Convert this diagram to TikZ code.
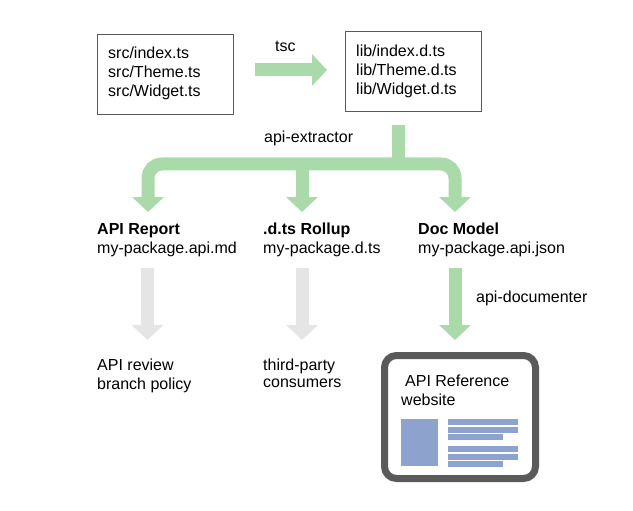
\documentclass[tikz,border=0pt]{standalone}
\usepackage{fontspec}
\setmainfont{Liberation Sans}
\usepackage{xcolor}
\usetikzlibrary{positioning, arrows.meta, calc}

\definecolor{flowgreen}{HTML}{AAD9AA}
\definecolor{flowgray}{HTML}{E5E5E5}
\definecolor{docblue}{HTML}{8DA3CD}
\definecolor{frame}{HTML}{5A5A5A}

\begin{document}
\begin{tikzpicture}[
    x=1pt, y=-1pt,
    filebox/.style={rectangle, draw=black!65, line width=0.9pt, minimum width=136pt, minimum height=80pt},
    plaintext/.style={font=\fontsize{16}{19}\selectfont, inner sep=0pt, anchor=base west, align=left},
    greenarrow/.style={draw=flowgreen, line width=13pt, -{Triangle[width=31pt, length=15pt]}},
    grayarrow/.style={greenarrow, draw=flowgray},
    sitebox/.style={rectangle, draw=frame, line width=7pt, rounded corners=12pt, minimum width=151pt, minimum height=123pt}
]
\useasboundingbox (0,0) rectangle (633,511);

% Sources and compiled declarations (text placed at the baseline of its last line)
\node[filebox] (src) at (165,74) {};
\node[plaintext] (srcfiles) at (108,96.5) {src/index.ts\\src/Theme.ts\\src/Widget.ts};
\node[filebox] (lib) at (413,71.5) {};
\node[plaintext] (libfiles) at (356,94.5) {lib/index.d.ts\\lib/Theme.d.ts\\lib/Widget.d.ts};

\coordinate (tsc-from) at (255,70);
\coordinate (tsc-to) at (327,70);
\draw[greenarrow] (tsc-from) -- (tsc-to);
\node[plaintext] (tsc) at (275,52) {tsc};

% api-extractor fork
\coordinate (extract-top) at (398,125);
\coordinate (fork) at (398,164);
\coordinate (report-in) at (148,212);
\coordinate (rollup-in) at (302,212);
\coordinate (model-in) at (455,212);
\draw[greenarrow, -] (extract-top) -- (fork);
\draw[greenarrow, {Triangle[width=31pt, length=15pt]}-{Triangle[width=31pt, length=15pt]}, rounded corners=14pt]
    (report-in) |- (fork) -| (model-in);
\draw[greenarrow] (fork -| rollup-in) -- (rollup-in);
\node[plaintext] (extractor) at (264,142.5) {api-extractor};

% Outputs
\node[plaintext] (report) at (97,253.5) {\textbf{API Report}\\my-package.api.md};
\node[plaintext] (rollup) at (263,253.5) {\textbf{.d.ts Rollup}\\my-package.d.ts};
\node[plaintext] (model) at (418,253.5) {\textbf{Doc Model}\\my-package.api.json};

% Consumers
\coordinate (report-out) at (147.5,268);
\coordinate (review-in) at (147.5,340);
\coordinate (rollup-out) at (302,268);
\coordinate (consumers-in) at (302,340);
\coordinate (model-out) at (455,268);
\coordinate (site-in) at (455,340);
\draw[grayarrow] (report-out) -- (review-in);
\draw[grayarrow] (rollup-out) -- (consumers-in);
\draw[greenarrow] (model-out) -- (site-in);
\node[plaintext] (documenter) at (476,302.5) {api-documenter};

\node[plaintext] (review) at (97,389.5) {API review\\branch policy};
\node[plaintext, font=\fontsize{16}{16.5}\selectfont] (consumers) at (263,387) {third-party\\consumers};

% Website
\node[sitebox] (site) at (460,417) {};
\node[plaintext] (sitename) at (401,405.5) {\hspace{4pt}API Reference\\website};
\fill[docblue] (401,419) rectangle (438,466);
\foreach \rowy/\rowend in {419/518, 426.5/518, 434/503, 446/518, 453.5/518, 461/503} {
    \fill[docblue] (448,\rowy) rectangle (\rowend,\rowy+6);
}

\end{tikzpicture}
\end{document}
